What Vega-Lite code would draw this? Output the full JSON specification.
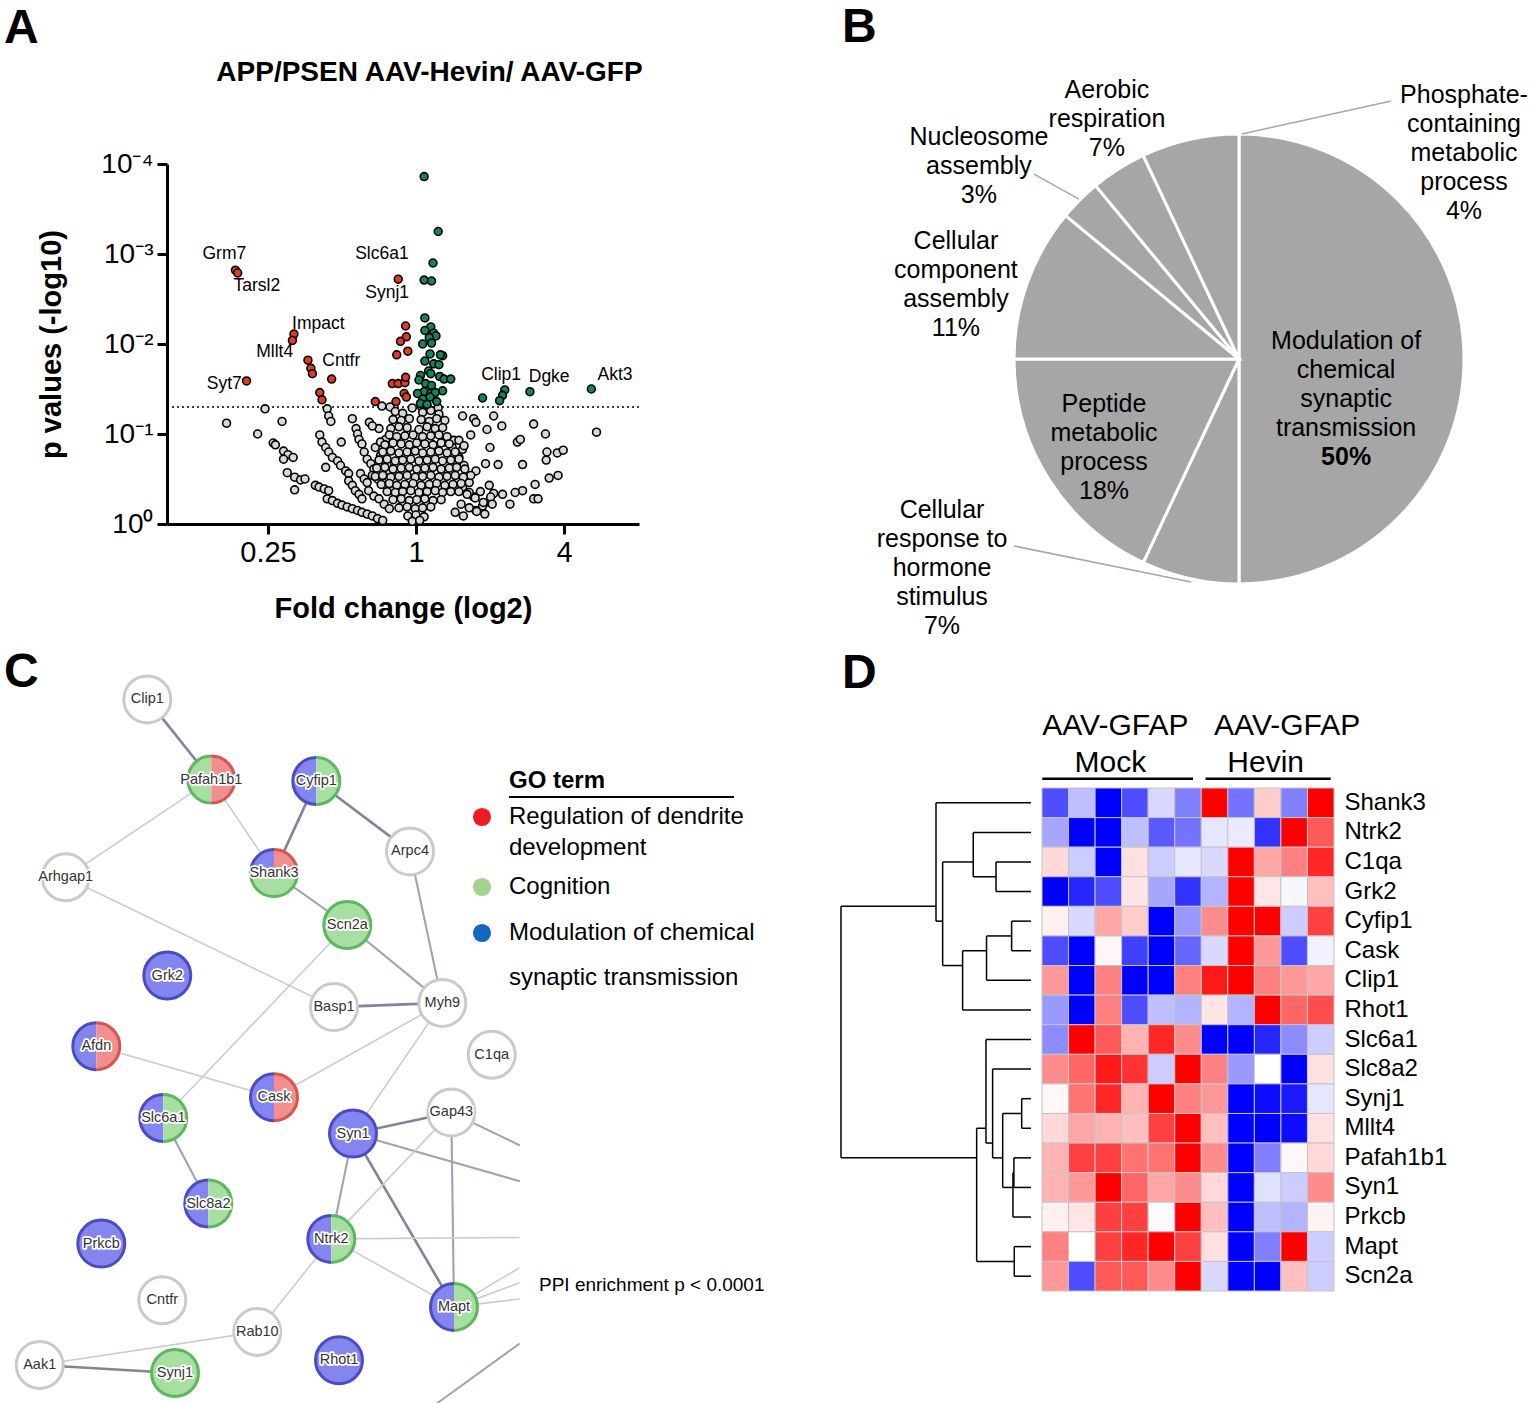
{
"$schema":"https://vega.github.io/schema/vega-lite/v6.json",
"padding":{"left":4,"top":3,"right":2,"bottom":0},
"background":"white",
"config":{"font":"Liberation Sans","view":{"stroke":null},"title":{"fontSize":48,"fontWeight":"bold","anchor":"start","frame":"group","color":"black"},"axis":{"labelColor":"black","titleColor":"black","domainColor":"black","tickColor":"black","grid":false},"text":{"color":"black"}},
"bounds":"flush",
"spacing":624,
"datasets":{
"one":[{}],
"vns":[
{"fc":-2.04,"lp":1.28},{"fc":-2.56,"lp":1.12},{"fc":-1.81,"lp":1.14},{"fc":-2.14,"lp":1.0},{"fc":-1.93,"lp":0.9},{"fc":-1.9,"lp":0.88},{"fc":-1.79,"lp":0.81},{"fc":-1.73,"lp":0.77},{"fc":-1.66,"lp":0.74},{"fc":-1.79,"lp":0.72},{"fc":-1.74,"lp":0.57},{"fc":-1.64,"lp":0.52},{"fc":-1.56,"lp":0.49},{"fc":-1.5,"lp":0.5},{"fc":-1.64,"lp":0.38},
{"fc":-1.2,"lp":1.28},{"fc":-1.18,"lp":1.2},{"fc":-1.15,"lp":1.14},{"fc":-0.86,"lp":1.17},{"fc":-0.63,"lp":1.13},{"fc":-0.5,"lp":1.06},{"fc":-0.59,"lp":1.09},{"fc":-1.3,"lp":0.99},{"fc":-1.27,"lp":0.91},{"fc":-1.01,"lp":0.91},{"fc":-0.81,"lp":1.06},{"fc":-0.79,"lp":1.0},{"fc":-0.77,"lp":0.94},{"fc":-0.73,"lp":0.89},{"fc":-0.41,"lp":0.94},{"fc":-0.55,"lp":0.85},{"fc":-0.48,"lp":0.91},{"fc":-1.22,"lp":0.85},{"fc":-1.18,"lp":0.8},{"fc":-1.13,"lp":0.74},{"fc":-1.06,"lp":0.7},{"fc":-1.02,"lp":0.65},{"fc":-0.95,"lp":0.59},{"fc":-0.91,"lp":0.56},{"fc":-1.22,"lp":0.63},{"fc":-0.7,"lp":0.8},{"fc":-0.66,"lp":0.72},{"fc":-0.61,"lp":0.67},{"fc":-0.57,"lp":0.61},{"fc":-0.75,"lp":0.56},{"fc":-0.7,"lp":0.5},{"fc":-0.66,"lp":0.46},{"fc":-0.48,"lp":0.76},{"fc":-0.42,"lp":0.7},{"fc":-0.39,"lp":0.65},{"fc":-0.36,"lp":0.59},{"fc":-1.36,"lp":0.43},{"fc":-1.31,"lp":0.41},{"fc":-1.24,"lp":0.39},{"fc":-1.18,"lp":0.37},{"fc":-0.91,"lp":0.48},{"fc":-0.86,"lp":0.43},{"fc":-0.82,"lp":0.37},{"fc":-0.77,"lp":0.33},{"fc":-0.73,"lp":0.28},{"fc":-1.2,"lp":0.28},{"fc":-1.13,"lp":0.26},{"fc":-1.06,"lp":0.23},{"fc":-1.0,"lp":0.21},{"fc":-0.93,"lp":0.19},{"fc":-0.86,"lp":0.17},{"fc":-0.79,"lp":0.15},{"fc":-0.73,"lp":0.13},{"fc":-0.66,"lp":0.11},{"fc":-0.59,"lp":0.09},{"fc":-0.52,"lp":0.06},{"fc":-0.45,"lp":0.04},{"fc":-0.64,"lp":0.37},{"fc":-0.57,"lp":0.31},{"fc":-0.5,"lp":0.28},{"fc":-0.43,"lp":0.22},{"fc":-0.36,"lp":0.17},{"fc":-0.59,"lp":0.54},{"fc":-0.52,"lp":0.5},{"fc":-0.45,"lp":0.46},{"fc":-0.39,"lp":0.42},{"fc":-0.32,"lp":0.37},
{"fc":0.63,"lp":1.2},{"fc":0.78,"lp":1.17},{"fc":0.81,"lp":1.13},{"fc":1.05,"lp":1.2},{"fc":0.96,"lp":1.05},{"fc":1.16,"lp":1.09},{"fc":1.59,"lp":1.11},{"fc":1.75,"lp":1.0},{"fc":0.74,"lp":0.99},{"fc":1.0,"lp":0.85},{"fc":1.37,"lp":0.91},{"fc":1.41,"lp":0.94},{"fc":1.77,"lp":0.8},{"fc":1.91,"lp":0.79},{"fc":1.99,"lp":0.82},{"fc":0.94,"lp":0.67},{"fc":1.11,"lp":0.66},{"fc":1.44,"lp":0.66},{"fc":1.76,"lp":0.71},{"fc":1.61,"lp":0.44},{"fc":1.8,"lp":0.51},{"fc":1.92,"lp":0.54},{"fc":0.99,"lp":0.43},{"fc":1.17,"lp":0.33},{"fc":1.05,"lp":0.34},{"fc":1.27,"lp":0.22},{"fc":1.44,"lp":0.37},{"fc":1.34,"lp":0.35},{"fc":1.59,"lp":0.28},{"fc":1.65,"lp":0.28},{"fc":0.78,"lp":0.3},{"fc":0.92,"lp":0.23},{"fc":0.81,"lp":0.15},{"fc":0.72,"lp":0.35},{"fc":2.44,"lp":1.02},{"fc":0.87,"lp":0.36},{"fc":1.01,"lp":0.3},{"fc":1.03,"lp":0.22},{"fc":0.9,"lp":0.2},{"fc":0.67,"lp":0.5},{"fc":0.72,"lp":0.46},{"fc":0.63,"lp":0.41},{"fc":0.58,"lp":0.36},{"fc":0.81,"lp":0.59},{"fc":0.74,"lp":0.54},{"fc":0.65,"lp":0.65},{"fc":0.58,"lp":0.74},{"fc":0.63,"lp":0.83},{"fc":0.51,"lp":0.93},{"fc":0.38,"lp":0.91},{"fc":0.49,"lp":0.85},{"fc":0.58,"lp":0.93},{"fc":0.65,"lp":0.87},{"fc":0.69,"lp":0.33},{"fc":0.8,"lp":0.29},{"fc":0.91,"lp":0.24},{"fc":0.61,"lp":0.22},{"fc":0.72,"lp":0.18},{"fc":0.82,"lp":0.14},{"fc":0.93,"lp":0.11},{"fc":0.53,"lp":0.13},{"fc":0.64,"lp":0.09},{"fc":0.55,"lp":0.47},
{"fc":-0.46,"lp":1.31},{"fc":-0.35,"lp":1.3},{"fc":-0.05,"lp":1.29},{"fc":0.07,"lp":1.31},{"fc":0.15,"lp":1.3},{"fc":0.3,"lp":1.29},
{"fc":-0.28,"lp":1.25},{"fc":-0.18,"lp":1.23},{"fc":0.09,"lp":1.24},{"fc":0.2,"lp":1.26},{"fc":0.31,"lp":1.22},
{"fc":-0.31,"lp":1.16},{"fc":-0.2,"lp":1.15},{"fc":-0.09,"lp":1.17},{"fc":0.07,"lp":1.16},{"fc":0.18,"lp":1.14},{"fc":0.28,"lp":1.17},{"fc":0.39,"lp":1.15},
{"fc":-0.34,"lp":1.06},{"fc":-0.23,"lp":1.08},{"fc":-0.12,"lp":1.07},{"fc":0.04,"lp":1.05},{"fc":0.15,"lp":1.08},{"fc":0.26,"lp":1.06},{"fc":0.36,"lp":1.07},
{"fc":-0.36,"lp":0.99},{"fc":-0.26,"lp":0.97},{"fc":-0.15,"lp":0.98},{"fc":-0.04,"lp":0.99},{"fc":0.09,"lp":0.97},{"fc":0.2,"lp":0.98},{"fc":0.31,"lp":0.99},{"fc":0.42,"lp":0.97},
{"fc":-0.42,"lp":0.88},{"fc":-0.31,"lp":0.9},{"fc":-0.2,"lp":0.89},{"fc":-0.09,"lp":0.88},{"fc":0.01,"lp":0.9},{"fc":0.12,"lp":0.89},{"fc":0.23,"lp":0.88},{"fc":0.34,"lp":0.9},{"fc":0.45,"lp":0.89},
{"fc":-0.45,"lp":0.8},{"fc":-0.34,"lp":0.81},{"fc":-0.23,"lp":0.79},{"fc":-0.12,"lp":0.8},{"fc":-0.01,"lp":0.81},{"fc":0.09,"lp":0.79},{"fc":0.2,"lp":0.8},{"fc":0.31,"lp":0.81},{"fc":0.42,"lp":0.79},{"fc":0.53,"lp":0.8},
{"fc":-0.5,"lp":0.71},{"fc":-0.39,"lp":0.72},{"fc":-0.28,"lp":0.7},{"fc":-0.18,"lp":0.71},{"fc":-0.07,"lp":0.72},{"fc":0.04,"lp":0.7},{"fc":0.15,"lp":0.71},{"fc":0.26,"lp":0.72},{"fc":0.36,"lp":0.7},{"fc":0.47,"lp":0.71},{"fc":0.58,"lp":0.72},
{"fc":-0.53,"lp":0.62},{"fc":-0.42,"lp":0.63},{"fc":-0.31,"lp":0.61},{"fc":-0.2,"lp":0.62},{"fc":-0.09,"lp":0.63},{"fc":0.01,"lp":0.61},{"fc":0.12,"lp":0.62},{"fc":0.23,"lp":0.63},{"fc":0.34,"lp":0.61},{"fc":0.45,"lp":0.62},{"fc":0.55,"lp":0.63},{"fc":0.66,"lp":0.61},
{"fc":-0.55,"lp":0.53},{"fc":-0.45,"lp":0.54},{"fc":-0.34,"lp":0.52},{"fc":-0.23,"lp":0.53},{"fc":-0.12,"lp":0.54},{"fc":-0.01,"lp":0.52},{"fc":0.09,"lp":0.53},{"fc":0.2,"lp":0.54},{"fc":0.31,"lp":0.52},{"fc":0.42,"lp":0.53},{"fc":0.53,"lp":0.54},{"fc":0.64,"lp":0.52},
{"fc":-0.47,"lp":0.44},{"fc":-0.36,"lp":0.45},{"fc":-0.26,"lp":0.43},{"fc":-0.15,"lp":0.44},{"fc":-0.04,"lp":0.45},{"fc":0.07,"lp":0.43},{"fc":0.18,"lp":0.44},{"fc":0.28,"lp":0.45},{"fc":0.39,"lp":0.43},{"fc":0.5,"lp":0.44},{"fc":0.61,"lp":0.45},
{"fc":-0.39,"lp":0.36},{"fc":-0.28,"lp":0.35},{"fc":-0.18,"lp":0.36},{"fc":-0.07,"lp":0.37},{"fc":0.04,"lp":0.35},{"fc":0.15,"lp":0.36},{"fc":0.26,"lp":0.37},{"fc":0.36,"lp":0.35},{"fc":0.47,"lp":0.36},
{"fc":-0.31,"lp":0.27},{"fc":-0.2,"lp":0.28},{"fc":-0.09,"lp":0.26},{"fc":0.01,"lp":0.27},{"fc":0.12,"lp":0.28},{"fc":0.23,"lp":0.26},{"fc":0.34,"lp":0.27},
{"fc":-0.23,"lp":0.18},{"fc":-0.12,"lp":0.19},{"fc":-0.01,"lp":0.17},{"fc":0.09,"lp":0.18},{"fc":0.2,"lp":0.19},
{"fc":-0.11,"lp":0.09},{"fc":0.0,"lp":0.1},{"fc":0.11,"lp":0.08},{"fc":-0.05,"lp":0.03},{"fc":0.05,"lp":0.04}
],
"vsig":[
{"fc":0.11,"lp":3.86,"dir":"up"},{"fc":0.3,"lp":3.25,"dir":"up"},{"fc":0.23,"lp":2.9,"dir":"up"},{"fc":0.11,"lp":2.71,"dir":"up"},{"fc":0.21,"lp":2.7,"dir":"up"},{"fc":0.12,"lp":2.29,"dir":"up"},{"fc":0.2,"lp":2.19,"dir":"up"},{"fc":0.12,"lp":2.15,"dir":"up"},{"fc":0.24,"lp":2.12,"dir":"up"},{"fc":0.27,"lp":2.09,"dir":"up"},{"fc":0.18,"lp":2.07,"dir":"up"},{"fc":0.09,"lp":2.0,"dir":"up"},{"fc":0.21,"lp":2.01,"dir":"up"},{"fc":0.19,"lp":1.89,"dir":"up"},{"fc":0.36,"lp":1.87,"dir":"up"},{"fc":0.33,"lp":1.88,"dir":"up"},{"fc":0.12,"lp":1.81,"dir":"up"},{"fc":0.24,"lp":1.78,"dir":"up"},{"fc":0.31,"lp":1.77,"dir":"up"},{"fc":0.17,"lp":1.7,"dir":"up"},{"fc":0.06,"lp":1.65,"dir":"up"},{"fc":0.2,"lp":1.67,"dir":"up"},{"fc":0.32,"lp":1.64,"dir":"up"},{"fc":0.38,"lp":1.61,"dir":"up"},{"fc":0.47,"lp":1.61,"dir":"up"},{"fc":0.04,"lp":1.6,"dir":"up"},{"fc":0.13,"lp":1.56,"dir":"up"},{"fc":0.21,"lp":1.54,"dir":"up"},{"fc":0.36,"lp":1.48,"dir":"up"},{"fc":0.11,"lp":1.47,"dir":"up"},{"fc":0.2,"lp":1.45,"dir":"up"},{"fc":0.26,"lp":1.46,"dir":"up"},{"fc":0.19,"lp":1.41,"dir":"up"},{"fc":0.09,"lp":1.39,"dir":"up"},{"fc":0.06,"lp":1.34,"dir":"up"},{"fc":0.15,"lp":1.33,"dir":"up"},{"fc":0.28,"lp":1.36,"dir":"up"},{"fc":0.02,"lp":1.45,"dir":"up"},{"fc":1.2,"lp":1.49,"dir":"up"},{"fc":1.17,"lp":1.43,"dir":"up"},{"fc":1.13,"lp":1.37,"dir":"up"},{"fc":0.9,"lp":1.4,"dir":"up"},{"fc":1.54,"lp":1.47,"dir":"up"},{"fc":2.37,"lp":1.5,"dir":"up"},
{"fc":-2.44,"lp":2.82,"dir":"down"},{"fc":-2.41,"lp":2.79,"dir":"down"},{"fc":-0.24,"lp":2.72,"dir":"down"},{"fc":-1.65,"lp":2.11,"dir":"down"},{"fc":-1.67,"lp":2.04,"dir":"down"},{"fc":-1.46,"lp":1.82,"dir":"down"},{"fc":-1.42,"lp":1.73,"dir":"down"},{"fc":-1.4,"lp":1.67,"dir":"down"},{"fc":-1.14,"lp":1.61,"dir":"down"},{"fc":-2.29,"lp":1.59,"dir":"down"},{"fc":-1.3,"lp":1.46,"dir":"down"},{"fc":-1.27,"lp":1.38,"dir":"down"},{"fc":-0.14,"lp":2.2,"dir":"down"},{"fc":-0.13,"lp":2.08,"dir":"down"},{"fc":-0.21,"lp":2.03,"dir":"down"},{"fc":-0.26,"lp":1.88,"dir":"down"},{"fc":-0.11,"lp":1.92,"dir":"down"},{"fc":-0.32,"lp":1.56,"dir":"down"},{"fc":-0.24,"lp":1.56,"dir":"down"},{"fc":-0.15,"lp":1.57,"dir":"down"},{"fc":-0.14,"lp":1.63,"dir":"down"},{"fc":-0.55,"lp":1.36,"dir":"down"},{"fc":-0.16,"lp":1.45,"dir":"down"},{"fc":-0.13,"lp":1.41,"dir":"down"},{"fc":-0.27,"lp":1.36,"dir":"down"}
],
"pie":[
{"cat":"Modulation of chemical synaptic transmission","pct":50,"ord":1},
{"cat":"Cellular response to hormone stimulus","pct":7,"ord":2},
{"cat":"Peptide metabolic process","pct":18,"ord":3},
{"cat":"Cellular component assembly","pct":11,"ord":4},
{"cat":"Nucleosome assembly","pct":3,"ord":5},
{"cat":"Phosphate-containing metabolic process","pct":4,"ord":6},
{"cat":"Aerobic respiration","pct":7,"ord":7}
],
"nodes":[
{"id":"Clip1","lx":14.83,"ly":69.54,"type":"p"},{"id":"Pafah1b1","lx":21.23,"ly":77.56,"type":"p"},{"id":"Cyfip1","lx":31.73,"ly":77.7,"type":"p"},{"id":"Arpc4","lx":41.1,"ly":84.74,"type":"p"},{"id":"Arhgap1","lx":6.67,"ly":87.33,"type":"p"},{"id":"Shank3","lx":27.5,"ly":86.91,"type":"p"},{"id":"Scn2a","lx":34.83,"ly":92.1,"type":"p"},{"id":"Grk2","lx":16.83,"ly":97.15,"type":"p"},{"id":"Basp1","lx":33.5,"ly":100.31,"type":"p"},{"id":"Myh9","lx":44.33,"ly":99.89,"type":"p"},{"id":"Afdn","lx":9.73,"ly":104.23,"type":"p"},{"id":"C1qa","lx":49.27,"ly":105.08,"type":"p"},{"id":"Cask","lx":27.5,"ly":109.33,"type":"p"},{"id":"Slc6a1","lx":16.43,"ly":111.4,"type":"p"},{"id":"Gap43","lx":45.23,"ly":110.84,"type":"p"},{"id":"Syn1","lx":35.4,"ly":112.96,"type":"p"},{"id":"Slc8a2","lx":20.93,"ly":119.95,"type":"p"},{"id":"Prkcb","lx":10.23,"ly":123.96,"type":"p"},{"id":"Ntrk2","lx":33.23,"ly":123.49,"type":"p"},{"id":"Cntfr","lx":16.33,"ly":129.63,"type":"p"},{"id":"Mapt","lx":45.5,"ly":130.29,"type":"p"},{"id":"Rab10","lx":25.83,"ly":132.79,"type":"p"},{"id":"Aak1","lx":4.07,"ly":136.1,"type":"p"},{"id":"Synj1","lx":17.6,"ly":136.9,"type":"p"},{"id":"Rhot1","lx":34.0,"ly":135.62,"type":"p"},
{"id":"E1","lx":52,"ly":117.7,"type":"off"},{"id":"E2","lx":52,"ly":114.1,"type":"off"},{"id":"E3","lx":52,"ly":123.35,"type":"off"},{"id":"E4","lx":52,"ly":126.4,"type":"off"},{"id":"E5","lx":52,"ly":127.9,"type":"off"},{"id":"E6","lx":52,"ly":129.5,"type":"off"},{"id":"E7","lx":43.3,"ly":140.3,"type":"off"},{"id":"E8","lx":52,"ly":134.0,"type":"off"}
],
"pieces":[
{"n":"Clip1","part":"F","go":"none"},{"n":"Pafah1b1","part":"L","go":"cog"},{"n":"Pafah1b1","part":"R","go":"dend"},{"n":"Cyfip1","part":"L","go":"mod"},{"n":"Cyfip1","part":"R","go":"cog"},{"n":"Arpc4","part":"F","go":"none"},{"n":"Arhgap1","part":"F","go":"none"},{"n":"Shank3","part":"TL","go":"mod"},{"n":"Shank3","part":"TR","go":"dend"},{"n":"Shank3","part":"B","go":"cog"},{"n":"Scn2a","part":"F","go":"cog"},{"n":"Grk2","part":"F","go":"mod"},{"n":"Basp1","part":"F","go":"none"},{"n":"Myh9","part":"F","go":"none"},{"n":"Afdn","part":"L","go":"mod"},{"n":"Afdn","part":"R","go":"dend"},{"n":"C1qa","part":"F","go":"none"},{"n":"Cask","part":"L","go":"mod"},{"n":"Cask","part":"R","go":"dend"},{"n":"Slc6a1","part":"L","go":"mod"},{"n":"Slc6a1","part":"R","go":"cog"},{"n":"Gap43","part":"F","go":"none"},{"n":"Syn1","part":"F","go":"mod"},{"n":"Slc8a2","part":"L","go":"mod"},{"n":"Slc8a2","part":"R","go":"cog"},{"n":"Prkcb","part":"F","go":"mod"},{"n":"Ntrk2","part":"L","go":"mod"},{"n":"Ntrk2","part":"R","go":"cog"},{"n":"Cntfr","part":"F","go":"none"},{"n":"Mapt","part":"L","go":"mod"},{"n":"Mapt","part":"R","go":"cog"},{"n":"Rab10","part":"F","go":"none"},{"n":"Aak1","part":"F","go":"none"},{"n":"Synj1","part":"F","go":"cog"},{"n":"Rhot1","part":"F","go":"mod"}
],
"edges":[
{"s":"Clip1","t":"Pafah1b1","w":"thick"},{"s":"Pafah1b1","t":"Arhgap1","w":"thin"},{"s":"Pafah1b1","t":"Shank3","w":"thin"},{"s":"Cyfip1","t":"Shank3","w":"thick"},{"s":"Cyfip1","t":"Arpc4","w":"thick"},{"s":"Shank3","t":"Scn2a","w":"medium"},{"s":"Arhgap1","t":"Basp1","w":"thin"},{"s":"Arpc4","t":"Myh9","w":"medium"},{"s":"Scn2a","t":"Myh9","w":"medium"},{"s":"Basp1","t":"Myh9","w":"thick"},{"s":"Scn2a","t":"Slc6a1","w":"thin"},{"s":"Afdn","t":"Cask","w":"thin"},{"s":"Cask","t":"Myh9","w":"thin"},{"s":"Myh9","t":"Syn1","w":"thin"},{"s":"Slc6a1","t":"Slc8a2","w":"medium"},{"s":"Syn1","t":"Gap43","w":"thick"},{"s":"Syn1","t":"E1","w":"medium"},{"s":"Syn1","t":"Ntrk2","w":"medium"},{"s":"Syn1","t":"Mapt","w":"thick"},{"s":"Gap43","t":"Ntrk2","w":"thin"},{"s":"Gap43","t":"Mapt","w":"medium"},{"s":"Gap43","t":"E2","w":"medium"},{"s":"Ntrk2","t":"E3","w":"thin"},{"s":"Ntrk2","t":"Mapt","w":"thin"},{"s":"Ntrk2","t":"Rab10","w":"thin"},{"s":"Rab10","t":"Aak1","w":"thin"},{"s":"Aak1","t":"Synj1","w":"thick"},{"s":"Mapt","t":"E4","w":"thin"},{"s":"Mapt","t":"E5","w":"thin"},{"s":"Mapt","t":"E6","w":"thin"},{"s":"E7","t":"E8","w":"medium"}
],
"heat":[
{"g":"Shank3","M1":-0.7,"M2":-0.25,"M3":-1,"M4":-0.7,"M5":-0.15,"M6":-0.5,"H1":1,"H2":-0.55,"H3":0.2,"H4":-0.5,"H5":1},
{"g":"Ntrk2","M1":-0.35,"M2":-1,"M3":-1,"M4":-0.25,"M5":-0.65,"M6":-0.55,"H1":-0.1,"H2":-0.08,"H3":-0.8,"H4":1,"H5":0.65},
{"g":"C1qa","M1":0.15,"M2":-0.2,"M3":-1,"M4":0.12,"M5":-0.2,"M6":-0.1,"H1":-0.15,"H2":1,"H3":0.35,"H4":0.5,"H5":0.85},
{"g":"Grk2","M1":-1,"M2":-0.85,"M3":-0.7,"M4":0.1,"M5":-0.35,"M6":-0.8,"H1":-0.3,"H2":1,"H3":0.1,"H4":-0.03,"H5":0.25},
{"g":"Cyfip1","M1":0.06,"M2":-0.15,"M3":0.35,"M4":0.2,"M5":-1,"M6":-0.4,"H1":0.45,"H2":1,"H3":1,"H4":-0.2,"H5":0.75},
{"g":"Cask","M1":-0.7,"M2":-1,"M3":0.03,"M4":-0.75,"M5":-1,"M6":-0.6,"H1":-0.15,"H2":1,"H3":0.4,"H4":-0.7,"H5":-0.05},
{"g":"Clip1","M1":0.4,"M2":-1,"M3":0.5,"M4":-1,"M5":-1,"M6":0.5,"H1":0.9,"H2":1,"H3":0.5,"H4":0.4,"H5":0.35},
{"g":"Rhot1","M1":-0.4,"M2":-1,"M3":0.5,"M4":-0.7,"M5":-0.25,"M6":-0.3,"H1":0.1,"H2":-0.3,"H3":1,"H4":0.6,"H5":0.7},
{"g":"Slc6a1","M1":-0.45,"M2":1,"M3":0.65,"M4":0.3,"M5":0.85,"M6":0.45,"H1":-1,"H2":-1,"H3":-0.85,"H4":-0.45,"H5":-0.2},
{"g":"Slc8a2","M1":0.45,"M2":0.6,"M3":0.9,"M4":0.8,"M5":-0.2,"M6":1,"H1":0.5,"H2":-0.4,"H3":0,"H4":-1,"H5":0.12},
{"g":"Synj1","M1":0.03,"M2":0.55,"M3":0.85,"M4":0.3,"M5":1,"M6":0.5,"H1":0.4,"H2":-1,"H3":-0.95,"H4":-0.9,"H5":-0.1},
{"g":"Mllt4","M1":0.15,"M2":0.35,"M3":0.3,"M4":0.25,"M5":0.75,"M6":1,"H1":0.25,"H2":-1,"H3":-1,"H4":-0.95,"H5":0.12},
{"g":"Pafah1b1","M1":0.3,"M2":0.75,"M3":0.75,"M4":0.55,"M5":0.55,"M6":1,"H1":0.45,"H2":-1,"H3":-0.5,"H4":0.03,"H5":0.15},
{"g":"Syn1","M1":0.3,"M2":0.4,"M3":1,"M4":0.6,"M5":0.35,"M6":0.45,"H1":0.15,"H2":-1,"H3":-0.12,"H4":-0.2,"H5":0.45},
{"g":"Prkcb","M1":0.06,"M2":0.1,"M3":0.75,"M4":0.75,"M5":-0.02,"M6":1,"H1":0.25,"H2":-1,"H3":-0.25,"H4":-0.3,"H5":0.05},
{"g":"Mapt","M1":0.5,"M2":0,"M3":0.75,"M4":0.85,"M5":1,"M6":0.75,"H1":0.12,"H2":-1,"H3":-0.5,"H4":1,"H5":-0.2},
{"g":"Scn2a","M1":0.4,"M2":-0.7,"M3":0.65,"M4":0.65,"M5":0.45,"M6":1,"H1":-0.15,"H2":-1,"H3":-1,"H4":0.25,"H5":-0.2}
],
"dendro":[
{"h1":0,"h2":0.184,"r1":2,"r2":2},{"h1":0,"h2":0.184,"r1":3,"r2":3},{"h1":0.184,"h2":0.184,"r1":2,"r2":3},
{"h1":0,"h2":0.304,"r1":1,"r2":1},{"h1":0.184,"h2":0.304,"r1":2.5,"r2":2.5},{"h1":0.304,"h2":0.304,"r1":1,"r2":2.5},
{"h1":0,"h2":0.102,"r1":4,"r2":4},{"h1":0,"h2":0.102,"r1":5,"r2":5},{"h1":0.102,"h2":0.102,"r1":4,"r2":5},
{"h1":0.102,"h2":0.234,"r1":4.5,"r2":4.5},{"h1":0,"h2":0.234,"r1":6,"r2":6},{"h1":0.234,"h2":0.234,"r1":4.5,"r2":6},
{"h1":0.234,"h2":0.36,"r1":5,"r2":5},{"h1":0,"h2":0.36,"r1":7,"r2":7},{"h1":0.36,"h2":0.36,"r1":5,"r2":7},
{"h1":0.304,"h2":0.465,"r1":2,"r2":2},{"h1":0.36,"h2":0.465,"r1":5.5,"r2":5.5},{"h1":0.465,"h2":0.465,"r1":2,"r2":5.5},
{"h1":0,"h2":0.5,"r1":0,"r2":0},{"h1":0.465,"h2":0.5,"r1":4,"r2":4},{"h1":0.5,"h2":0.5,"r1":0,"r2":4},
{"h1":0,"h2":0.049,"r1":10,"r2":10},{"h1":0,"h2":0.049,"r1":11,"r2":11},{"h1":0.049,"h2":0.049,"r1":10,"r2":11},
{"h1":0,"h2":0.09,"r1":12,"r2":12},{"h1":0,"h2":0.09,"r1":13,"r2":13},{"h1":0.09,"h2":0.09,"r1":12,"r2":13},
{"h1":0.09,"h2":0.095,"r1":12.5,"r2":12.5},{"h1":0,"h2":0.095,"r1":14,"r2":14},{"h1":0.095,"h2":0.095,"r1":12.5,"r2":14},
{"h1":0.049,"h2":0.149,"r1":10.5,"r2":10.5},{"h1":0.095,"h2":0.149,"r1":13,"r2":13},{"h1":0.149,"h2":0.149,"r1":10.5,"r2":13},
{"h1":0,"h2":0.202,"r1":9,"r2":9},{"h1":0.149,"h2":0.202,"r1":12,"r2":12},{"h1":0.202,"h2":0.202,"r1":9,"r2":12},
{"h1":0,"h2":0.237,"r1":8,"r2":8},{"h1":0.202,"h2":0.237,"r1":11.5,"r2":11.5},{"h1":0.237,"h2":0.237,"r1":8,"r2":11.5},
{"h1":0,"h2":0.088,"r1":15,"r2":15},{"h1":0,"h2":0.088,"r1":16,"r2":16},{"h1":0.088,"h2":0.088,"r1":15,"r2":16},
{"h1":0.237,"h2":0.286,"r1":11,"r2":11},{"h1":0.088,"h2":0.286,"r1":15.5,"r2":15.5},{"h1":0.286,"h2":0.286,"r1":11,"r2":15.5},
{"h1":0.5,"h2":1,"r1":3.5,"r2":3.5},{"h1":0.286,"h2":1,"r1":12,"r2":12},{"h1":1,"h2":1,"r1":3.5,"r2":12}
]
},
"vconcat":[
{"hconcat":[
{
"width":472,"height":360,
"title":{"text":"A","dx":-163,"offset":5},
"layer":[
{"data":{"name":"one"},"mark":{"type":"rule","strokeDash":[2,3],"strokeWidth":1.6,"color":"black"},"encoding":{"y":{"datum":1.3,"type":"quantitative"}}},
{"data":{"name":"vns"},"mark":{"type":"point","filled":true,"fill":"#d9d9d9","stroke":"black","strokeWidth":1.6,"size":62,"opacity":1},
 "encoding":{
  "x":{"field":"fc","type":"quantitative","scale":{"domain":[-3.365,3.014],"nice":false,"zero":false},
   "axis":{"values":[-2,0,2],"labelExpr":"datum.value < -1 ? '0.25' : (datum.value > 1 ? '4' : '1')","title":"Fold change (log2)","titleFontSize":29,"titleFontWeight":"bold","titlePadding":27,"labelFontSize":29,"labelPadding":4,"tickSize":10,"tickWidth":3,"domainWidth":3,"labelFlush":false}},
  "y":{"field":"lp","type":"quantitative","scale":{"domain":[0,4],"nice":false,"zero":false},
   "axis":{"values":[0,1,2,3,4],"labelExpr":"'10' + ['⁰','⁻¹','⁻²','⁻³','⁻⁴'][datum.value]","title":"p values (-log10)","titleFontSize":29,"titleFontWeight":"bold","titlePadding":34,"labelFontSize":28,"labelPadding":4,"tickSize":10,"tickWidth":3,"domainWidth":3,"labelFlush":false}}}},
{"data":{"name":"vsig"},"mark":{"type":"point","filled":true,"stroke":"black","strokeWidth":1.6,"size":62,"opacity":1},
 "encoding":{
  "x":{"field":"fc","type":"quantitative","axis":{"orient":"top","domain":false,"ticks":false,"labels":false,"title":"APP/PSEN AAV-Hevin/ AAV-GFP","titleFontSize":28,"titleFontWeight":"bold","titlePadding":78,"titleX":262}},
  "y":{"field":"lp","type":"quantitative"},
  "fill":{"field":"dir","type":"nominal","scale":{"domain":["down","up"],"range":["#e23b20","#11865a"]},"legend":null}}},
{"data":{"name":"one"},"mark":{"type":"text","fontSize":17.5},"encoding":{"x":{"datum":-2.59,"type":"quantitative","axis":null},"y":{"datum":3.0,"type":"quantitative"},"text":{"value":"Grm7"}}},
{"data":{"name":"one"},"mark":{"type":"text","fontSize":17.5},"encoding":{"x":{"datum":-2.15,"type":"quantitative","axis":null},"y":{"datum":2.64,"type":"quantitative"},"text":{"value":"Tarsl2"}}},
{"data":{"name":"one"},"mark":{"type":"text","fontSize":17.5},"encoding":{"x":{"datum":-0.46,"type":"quantitative","axis":null},"y":{"datum":3.0,"type":"quantitative"},"text":{"value":"Slc6a1"}}},
{"data":{"name":"one"},"mark":{"type":"text","fontSize":17.5},"encoding":{"x":{"datum":-0.39,"type":"quantitative","axis":null},"y":{"datum":2.57,"type":"quantitative"},"text":{"value":"Synj1"}}},
{"data":{"name":"one"},"mark":{"type":"text","fontSize":17.5},"encoding":{"x":{"datum":-1.32,"type":"quantitative","axis":null},"y":{"datum":2.22,"type":"quantitative"},"text":{"value":"Impact"}}},
{"data":{"name":"one"},"mark":{"type":"text","fontSize":17.5},"encoding":{"x":{"datum":-1.91,"type":"quantitative","axis":null},"y":{"datum":1.91,"type":"quantitative"},"text":{"value":"Mllt4"}}},
{"data":{"name":"one"},"mark":{"type":"text","fontSize":17.5},"encoding":{"x":{"datum":-1.01,"type":"quantitative","axis":null},"y":{"datum":1.81,"type":"quantitative"},"text":{"value":"Cntfr"}}},
{"data":{"name":"one"},"mark":{"type":"text","fontSize":17.5},"encoding":{"x":{"datum":-2.59,"type":"quantitative","axis":null},"y":{"datum":1.56,"type":"quantitative"},"text":{"value":"Syt7"}}},
{"data":{"name":"one"},"mark":{"type":"text","fontSize":17.5},"encoding":{"x":{"datum":1.15,"type":"quantitative","axis":null},"y":{"datum":1.66,"type":"quantitative"},"text":{"value":"Clip1"}}},
{"data":{"name":"one"},"mark":{"type":"text","fontSize":17.5},"encoding":{"x":{"datum":1.8,"type":"quantitative","axis":null},"y":{"datum":1.63,"type":"quantitative"},"text":{"value":"Dgke"}}},
{"data":{"name":"one"},"mark":{"type":"text","fontSize":17.5},"encoding":{"x":{"datum":2.69,"type":"quantitative","axis":null},"y":{"datum":1.66,"type":"quantitative"},"text":{"value":"Akt3"}}}
],
"resolve":{"axis":{"x":"independent"}}
},
{
"width":480,"height":390,
"title":{"text":"B","dx":-157,"offset":26},
"layer":[
{"data":{"name":"pie"},"mark":{"type":"arc","radius":225,"fill":"#a6a6a6","stroke":"white","strokeWidth":3},"encoding":{"theta":{"field":"pct","type":"quantitative","stack":true},"order":{"field":"ord","type":"quantitative"},"detail":{"field":"cat","type":"nominal"}}},
{"data":{"name":"one"},"mark":{"type":"rule","color":"#a6a6a6","strokeWidth":1.5},"encoding":{"x":{"datum":0.676,"type":"quantitative","scale":{"domain":[-1.0667,1.0667],"nice":false,"zero":false},"axis":null},"y":{"datum":1.147,"type":"quantitative","scale":{"domain":[-0.8667,0.8667],"nice":false,"zero":false},"axis":null},"x2":{"datum":0.013},"y2":{"datum":1.0}}},
{"data":{"name":"one"},"mark":{"type":"rule","color":"#a6a6a6","strokeWidth":1.5},"encoding":{"x":{"datum":-0.911,"type":"quantitative","axis":null},"y":{"datum":0.822,"type":"quantitative","axis":null},"x2":{"datum":-0.711},"y2":{"datum":0.711}}},
{"data":{"name":"one"},"mark":{"type":"rule","color":"#a6a6a6","strokeWidth":1.5},"encoding":{"x":{"datum":-1.0,"type":"quantitative","axis":null},"y":{"datum":-0.831,"type":"quantitative","axis":null},"x2":{"datum":-0.213},"y2":{"datum":-0.991}}},
{"data":{"name":"one"},"mark":{"type":"text","fontSize":25,"lineHeight":29,"lineBreak":"\n"},"encoding":{"x":{"datum":0.476,"type":"quantitative","axis":null},"y":{"datum":0.08,"type":"quantitative","axis":null},"text":{"value":"Modulation of\nchemical\nsynaptic\ntransmission"}}},
{"data":{"name":"one"},"mark":{"type":"text","fontSize":25,"fontWeight":"bold"},"encoding":{"x":{"datum":0.476,"type":"quantitative","axis":null},"y":{"datum":-0.436,"type":"quantitative","axis":null},"text":{"value":"50%"}}},
{"data":{"name":"one"},"mark":{"type":"text","fontSize":25,"lineHeight":29,"lineBreak":"\n"},"encoding":{"x":{"datum":-0.6,"type":"quantitative","axis":null},"y":{"datum":-0.2,"type":"quantitative","axis":null},"text":{"value":"Peptide\nmetabolic\nprocess\n18%"}}},
{"data":{"name":"one"},"mark":{"type":"text","fontSize":25,"lineHeight":29,"lineBreak":"\n"},"encoding":{"x":{"datum":-1.32,"type":"quantitative","axis":null},"y":{"datum":-0.671,"type":"quantitative","axis":null},"text":{"value":"Cellular\nresponse to\nhormone\nstimulus\n7%"}}},
{"data":{"name":"one"},"mark":{"type":"text","fontSize":25,"lineHeight":29,"lineBreak":"\n"},"encoding":{"x":{"datum":-1.258,"type":"quantitative","axis":null},"y":{"datum":0.524,"type":"quantitative","axis":null},"text":{"value":"Cellular\ncomponent\nassembly\n11%"}}},
{"data":{"name":"one"},"mark":{"type":"text","fontSize":25,"lineHeight":29,"lineBreak":"\n"},"encoding":{"x":{"datum":-1.156,"type":"quantitative","axis":null},"y":{"datum":0.987,"type":"quantitative","axis":null},"text":{"value":"Nucleosome\nassembly\n3%"}}},
{"data":{"name":"one"},"mark":{"type":"text","fontSize":25,"lineHeight":29,"lineBreak":"\n"},"encoding":{"x":{"datum":-0.587,"type":"quantitative","axis":null},"y":{"datum":1.196,"type":"quantitative","axis":null},"text":{"value":"Aerobic\nrespiration\n7%"}}},
{"data":{"name":"one"},"mark":{"type":"text","fontSize":25,"lineHeight":29,"lineBreak":"\n"},"encoding":{"x":{"datum":1.0,"type":"quantitative","axis":null},"y":{"datum":1.173,"type":"quantitative","axis":null},"text":{"value":"Phosphate-\ncontaining\nmetabolic\nprocess\n4%"}}}
]
}
],"spacing":360,"bounds":"flush"},
{"hconcat":[
{
"width":664,"height":503,
"title":{"text":"C","dx":-163,"offset":-27},
"layer":[
{"data":{"name":"edges"},
 "transform":[{"lookup":"s","from":{"data":{"name":"nodes"},"key":"id","fields":["lx","ly"]},"as":["sx","sy"]},{"lookup":"t","from":{"data":{"name":"nodes"},"key":"id","fields":["lx","ly"]},"as":["tx","ty"]}],
 "mark":{"type":"rule","strokeCap":"round"},
 "encoding":{
  "x":{"field":"sx","type":"quantitative","scale":{"domain":[16.8,83.2],"nice":false,"zero":false},"axis":null},
  "y":{"field":"sy","type":"quantitative","scale":{"domain":[78.4,128.7],"nice":false,"zero":false,"reverse":true},"axis":null},
  "x2":{"field":"tx"},"y2":{"field":"ty"},
  "stroke":{"field":"w","type":"nominal","scale":{"domain":["thin","medium","thick"],"range":["#c9cbd6","#9fa2b6","#80849c"]},"legend":null},
  "strokeWidth":{"field":"w","type":"ordinal","scale":{"domain":["thin","medium","thick"],"range":[1.6,2.6,3.6]},"legend":null}}},
{"data":{"name":"pieces"},
 "transform":[{"lookup":"n","from":{"data":{"name":"nodes"},"key":"id","fields":["lx","ly"]}}],
 "mark":{"type":"point","filled":true,"size":2209,"strokeWidth":0,"opacity":1},
 "encoding":{
  "x":{"field":"lx","type":"quantitative"},"y":{"field":"ly","type":"quantitative"},
  "shape":{"field":"part","type":"nominal","scale":{"domain":["F","L","R","TL","TR","B"],"range":["M1,0A1,1,0,1,1,-1,0A1,1,0,1,1,1,0Z","M0,-1A1,1,0,0,0,0,1Z","M0,-1A1,1,0,0,1,0,1Z","M0,0L-1,0A1,1,0,0,1,0,-1Z","M0,0L0,-1A1,1,0,0,1,1,0Z","M-1,0A1,1,0,0,0,1,0Z"]},"legend":null},
  "fill":{"field":"go","type":"nominal","scale":{"domain":["none","dend","cog","mod"],"range":["#ffffff","#f28e8e","#a7dfa2","#8585f0"]},"legend":null}}},
{"data":{"name":"pieces"},
 "transform":[{"lookup":"n","from":{"data":{"name":"nodes"},"key":"id","fields":["lx","ly"]}}],
 "mark":{"type":"point","filled":false,"size":2209,"strokeWidth":3,"opacity":1},
 "encoding":{
  "x":{"field":"lx","type":"quantitative"},"y":{"field":"ly","type":"quantitative"},
  "shape":{"field":"part","type":"nominal","scale":{"domain":["F","L","R","TL","TR","B"],"range":["M1,0A1,1,0,1,1,-1,0A1,1,0,1,1,1,0","M0,-1A1,1,0,0,0,0,1","M0,-1A1,1,0,0,1,0,1","M-1,0A1,1,0,0,1,0,-1","M0,-1A1,1,0,0,1,1,0","M-1,0A1,1,0,0,0,1,0"]},"legend":null},
  "stroke":{"field":"go","type":"nominal","scale":{"domain":["none","dend","cog","mod"],"range":["#cacaca","#d9534f","#5cb85c","#4b4bc4"]},"legend":null}}},
{"data":{"name":"nodes"},"transform":[{"filter":"datum.type == 'p'"}],
 "mark":{"type":"text","fontSize":14.5,"fill":"white","stroke":"white","strokeWidth":3.5,"strokeJoin":"round"},
 "encoding":{"x":{"field":"lx","type":"quantitative"},"y":{"field":"ly","type":"quantitative"},"text":{"field":"id"}}},
{"data":{"name":"nodes"},"transform":[{"filter":"datum.type == 'p'"}],
 "mark":{"type":"text","fontSize":14.5,"fill":"#333333"},
 "encoding":{"x":{"field":"lx","type":"quantitative"},"y":{"field":"ly","type":"quantitative"},"text":{"field":"id"}}},
{"data":{"name":"one"},"mark":{"type":"text","fontSize":24,"fontWeight":"bold","align":"left"},"encoding":{"x":{"datum":51.0,"type":"quantitative"},"y":{"datum":77.7,"type":"quantitative"},"text":{"value":"GO term"}}},
{"data":{"name":"one"},"mark":{"type":"rule","color":"black","strokeWidth":2},"encoding":{"x":{"datum":51.0,"type":"quantitative"},"x2":{"datum":73.5},"y":{"datum":79.3,"type":"quantitative"}}},
{"data":{"name":"one"},"mark":{"type":"point","filled":true,"size":330,"fill":"#ed1c24","opacity":1,"strokeWidth":0},"encoding":{"x":{"datum":48.3,"type":"quantitative"},"y":{"datum":81.3,"type":"quantitative"}}},
{"data":{"name":"one"},"mark":{"type":"point","filled":true,"size":330,"fill":"#a3d38c","opacity":1,"strokeWidth":0},"encoding":{"x":{"datum":48.3,"type":"quantitative"},"y":{"datum":88.3,"type":"quantitative"}}},
{"data":{"name":"one"},"mark":{"type":"point","filled":true,"size":330,"fill":"#1467c0","opacity":1,"strokeWidth":0},"encoding":{"x":{"datum":48.3,"type":"quantitative"},"y":{"datum":92.9,"type":"quantitative"}}},
{"data":{"name":"one"},"mark":{"type":"text","fontSize":24,"align":"left"},"encoding":{"x":{"datum":51.0,"type":"quantitative"},"y":{"datum":81.3,"type":"quantitative"},"text":{"value":"Regulation of dendrite"}}},
{"data":{"name":"one"},"mark":{"type":"text","fontSize":24,"align":"left"},"encoding":{"x":{"datum":51.0,"type":"quantitative"},"y":{"datum":84.4,"type":"quantitative"},"text":{"value":"development"}}},
{"data":{"name":"one"},"mark":{"type":"text","fontSize":24,"align":"left"},"encoding":{"x":{"datum":51.0,"type":"quantitative"},"y":{"datum":88.3,"type":"quantitative"},"text":{"value":"Cognition"}}},
{"data":{"name":"one"},"mark":{"type":"text","fontSize":24,"align":"left"},"encoding":{"x":{"datum":51.0,"type":"quantitative"},"y":{"datum":92.9,"type":"quantitative"},"text":{"value":"Modulation of chemical"}}},
{"data":{"name":"one"},"mark":{"type":"text","fontSize":24,"align":"left"},"encoding":{"x":{"datum":51.0,"type":"quantitative"},"y":{"datum":97.4,"type":"quantitative"},"text":{"value":"synaptic transmission"}}},
{"data":{"name":"one"},"mark":{"type":"text","fontSize":19,"align":"left"},"encoding":{"x":{"datum":54.0,"type":"quantitative"},"y":{"datum":128.1,"type":"quantitative"},"text":{"value":"PPI enrichment p < 0.0001"}}}
],
"resolve":{"scale":{"shape":"independent","stroke":"independent"}}
},
{"hconcat":[
{
"width":190,"height":503,
"title":{"text":"D","dx":1,"offset":90},
"data":{"name":"dendro"},
"mark":{"type":"rule","color":"black","strokeWidth":1.5},
"encoding":{
 "x":{"field":"h1","type":"quantitative","scale":{"domain":[0,1],"reverse":true,"nice":false,"zero":false},"axis":null},
 "x2":{"field":"h2"},
 "y":{"field":"r1","type":"quantitative","scale":{"domain":[-0.5,16.5],"reverse":true,"nice":false,"zero":false},"axis":null},
 "y2":{"field":"r2"}}
},
{
"width":292,"height":503,
"layer":[
{"data":{"name":"heat"},"transform":[{"fold":["M1","M2","M3","M4","M5","M6","H1","H2","H3","H4","H5"],"as":["s","z"]}],
 "mark":{"type":"rect","stroke":"#c4c4c4","strokeWidth":1},
 "encoding":{
  "x":{"field":"s","type":"nominal","scale":{"domain":["M1","M2","M3","M4","M5","M6","H1","H2","H3","H4","H5"]},"axis":null},
  "y":{"field":"g","type":"nominal","scale":{"domain":["Shank3","Ntrk2","C1qa","Grk2","Cyfip1","Cask","Clip1","Rhot1","Slc6a1","Slc8a2","Synj1","Mllt4","Pafah1b1","Syn1","Prkcb","Mapt","Scn2a"]},"axis":{"orient":"right","title":null,"ticks":false,"domain":false,"labelFontSize":24,"labelPadding":10,"labelColor":"black"}},
  "fill":{"field":"z","type":"quantitative","scale":{"domain":[-1,0,1],"range":["#0000ff","#ffffff","#ff0000"],"interpolate":"rgb"},"legend":null}}},
{"data":{"name":"one"},"mark":{"type":"text","fontSize":30,"dy":-77,"dx":7},"encoding":{"x":{"datum":"M3"},"y":{"datum":"Shank3"},"text":{"value":"AAV-GFAP"}}},
{"data":{"name":"one"},"mark":{"type":"text","fontSize":30,"dy":-40,"dx":2},"encoding":{"x":{"datum":"M3"},"y":{"datum":"Shank3"},"text":{"value":"Mock"}}},
{"data":{"name":"one"},"mark":{"type":"text","fontSize":30,"dy":-77,"dx":-7},"encoding":{"x":{"datum":"H4"},"y":{"datum":"Shank3"},"text":{"value":"AAV-GFAP"}}},
{"data":{"name":"one"},"mark":{"type":"text","fontSize":30,"dy":-40,"dx":-2},"encoding":{"x":{"datum":"H3"},"y":{"datum":"Shank3"},"text":{"value":"Hevin"}}},
{"data":{"name":"one"},"mark":{"type":"rule","color":"black","strokeWidth":2.5,"yOffset":-24,"xOffset":-13,"x2Offset":5},"encoding":{"x":{"datum":"M1"},"x2":{"datum":"M6"},"y":{"datum":"Shank3"}}},
{"data":{"name":"one"},"mark":{"type":"rule","color":"black","strokeWidth":2.5,"yOffset":-24,"xOffset":-9,"x2Offset":10},"encoding":{"x":{"datum":"H1"},"x2":{"datum":"H5"},"y":{"datum":"Shank3"}}}
]
}
],"spacing":11,"bounds":"flush"}
],"spacing":10,"bounds":"flush"}
]
}
